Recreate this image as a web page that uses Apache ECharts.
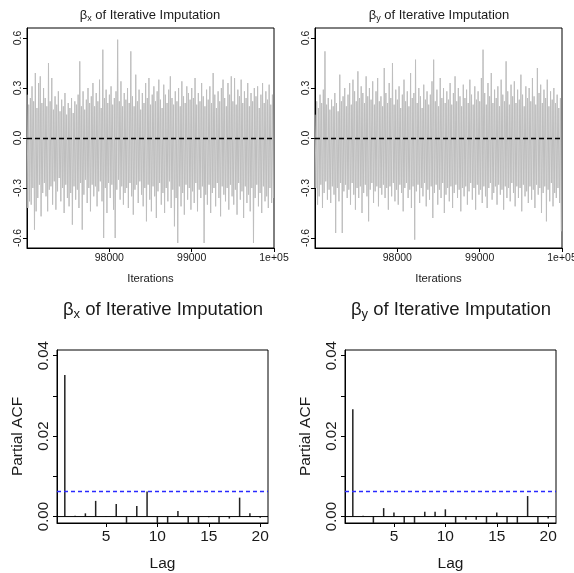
<!DOCTYPE html>
<html>
<head>
<meta charset="utf-8">
<script src="https://cdn.jsdelivr.net/npm/echarts@6/dist/echarts.min.js"></script>
<style>
html,body{margin:0;padding:0;background:#fff;}
#chart{width:574px;height:573px;}
</style>
</head>
<body>
<div id="chart"></div>
<script>
// ---- Trace data (every 10th iteration) ----
const iterStart = 97001;
const iterStep = 10;
const traceBetaX = [
0.26,-0.42,0.20,-0.38,0.24,-0.40,0.31,-0.30,0.22,-0.55,0.39,-0.44,0.18,-0.36,0.33,-0.28,0.37,-0.47,0.21,-0.33,
0.30,-0.27,0.24,-0.35,0.19,-0.44,0.45,-0.31,0.22,-0.29,0.36,-0.40,0.17,-0.26,0.25,-0.43,0.20,-0.32,0.28,-0.24,
0.16,-0.38,0.23,-0.30,0.19,-0.45,0.27,-0.28,0.14,-0.36,0.21,-0.41,0.18,-0.33,0.24,-0.52,0.15,-0.29,0.22,-0.37,
0.20,-0.31,0.26,-0.42,0.46,-0.27,0.19,-0.55,0.28,-0.34,0.17,-0.25,0.23,-0.39,0.30,-0.30,0.21,-0.44,0.25,-0.28,
0.33,-0.35,0.19,-0.29,0.27,-0.41,0.22,-0.32,0.35,-0.26,0.18,-0.38,0.53,-0.60,0.24,-0.30,0.29,-0.45,0.21,-0.27,
0.26,-0.36,0.31,-0.28,0.20,-0.43,0.24,-0.60,0.28,-0.31,0.59,-0.25,0.22,-0.37,0.34,-0.29,0.19,-0.40,0.27,-0.33,
0.23,-0.30,0.30,-0.42,0.21,-0.27,0.52,-0.35,0.25,-0.46,0.19,-0.31,0.38,-0.28,0.22,-0.39,0.29,-0.26,0.17,-0.34,
0.27,-0.41,0.21,-0.30,0.33,-0.50,0.24,-0.28,0.36,-0.37,0.20,-0.44,0.26,-0.29,0.31,-0.35,0.22,-0.48,0.28,-0.32,
0.35,-0.27,0.23,-0.40,0.18,-0.33,0.32,-0.45,0.26,-0.30,0.21,-0.38,0.29,-0.26,0.37,-0.42,0.24,-0.31,0.20,-0.53,
0.28,-0.36,0.22,-0.63,0.30,-0.29,0.19,-0.41,0.34,-0.33,0.25,-0.46,0.21,-0.28,0.31,-0.37,0.27,-0.30,0.23,-0.43,
0.30,-0.32,0.24,-0.39,0.36,-0.27,0.20,-0.44,0.27,-0.31,0.22,-0.36,0.33,-0.29,0.25,-0.63,0.19,-0.34,0.29,-0.40,
0.23,-0.28,0.31,-0.45,0.21,-0.33,0.39,-0.30,0.26,-0.41,0.18,-0.27,0.28,-0.36,0.22,-0.47,0.30,-0.29,0.35,-0.34,
0.24,-0.38,0.19,-0.30,0.33,-0.43,0.26,-0.28,0.37,-0.35,0.22,-0.40,0.36,-0.31,0.20,-0.46,0.29,-0.27,0.25,-0.37,
0.35,-0.32,0.21,-0.48,0.28,-0.29,0.24,-0.39,0.33,-0.34,0.19,-0.44,0.27,-0.30,0.22,-0.63,0.30,-0.36,0.25,-0.28,
0.31,-0.41,0.18,-0.33,0.26,-0.45,0.33,-0.29,0.21,-0.38,0.28,-0.35,0.23,-0.42,0.32,-0.30,0.20,-0.39,0.26,-0.36
];
const traceBetaY = [
0.14,-0.30,0.22,-0.40,0.18,-0.35,0.26,-0.28,0.21,-0.42,0.29,-0.33,0.52,-0.26,0.20,-0.37,0.24,-0.31,0.17,-0.39,
0.23,-0.29,0.19,-0.34,0.27,-0.57,0.21,-0.30,0.16,-0.38,0.38,-0.27,0.22,-0.57,0.25,-0.32,0.30,-0.28,0.19,-0.36,
0.26,-0.31,0.33,-0.40,0.20,-0.27,0.35,-0.34,0.28,-0.43,0.22,-0.30,0.40,-0.36,0.24,-0.29,0.31,-0.45,0.27,-0.33,
0.21,-0.28,0.37,-0.35,0.25,-0.50,0.30,-0.31,0.23,-0.27,0.34,-0.39,0.20,-0.32,0.28,-0.29,0.36,-0.41,0.22,-0.30,
0.25,-0.34,0.19,-0.28,0.42,-0.36,0.27,-0.30,0.21,-0.43,0.33,-0.29,0.24,-0.35,0.45,-0.27,0.20,-0.38,0.29,-0.31,
0.23,-0.40,0.31,-0.28,0.18,-0.33,0.26,-0.44,0.35,-0.30,0.22,-0.27,0.28,-0.36,0.19,-0.31,0.39,-0.42,0.24,-0.29,
0.27,-0.61,0.47,-0.32,0.21,-0.28,0.30,-0.39,0.25,-0.30,0.18,-0.35,0.32,-0.27,0.23,-0.41,0.28,-0.31,0.20,-0.37,
0.26,-0.29,0.34,-0.48,0.47,-0.33,0.22,-0.28,0.29,-0.40,0.19,-0.31,0.36,-0.36,0.24,-0.27,0.30,-0.45,0.21,-0.34,
0.28,-0.30,0.23,-0.38,0.33,-0.29,0.20,-0.42,0.27,-0.33,0.37,-0.28,0.22,-0.36,0.30,-0.31,0.25,-0.44,0.19,-0.30,
0.32,-0.35,0.24,-0.29,0.29,-0.40,0.21,-0.32,0.35,-0.27,0.26,-0.37,0.20,-0.30,0.31,-0.43,0.23,-0.28,0.28,-0.34,
0.22,-0.31,0.36,-0.39,0.53,-0.29,0.27,-0.35,0.20,-0.42,0.33,-0.30,0.25,-0.27,0.39,-0.37,0.21,-0.33,0.29,-0.29,
0.24,-0.40,0.31,-0.28,0.19,-0.34,0.35,-0.31,0.26,-0.43,0.22,-0.29,0.46,-0.36,0.28,-0.30,0.20,-0.38,0.32,-0.27,
0.25,-0.33,0.34,-0.41,0.21,-0.29,0.29,-0.36,0.23,-0.30,0.38,-0.44,0.26,-0.28,0.19,-0.35,0.31,-0.32,0.24,-0.39,
0.30,-0.29,0.22,-0.37,0.36,-0.31,0.25,-0.42,0.20,-0.28,0.42,-0.34,0.27,-0.30,0.32,-0.45,0.21,-0.33,0.29,-0.29,
0.24,-0.50,0.35,-0.31,0.19,-0.38,0.28,-0.27,0.23,-0.41,0.30,-0.33,0.21,-0.36,0.26,-0.30,0.18,-0.39,0.24,-0.56
];
const traceXTicks = [98000, 99000, 100000];
const traceYTicks = [-0.6, -0.3, 0, 0.3, 0.6];

// ---- Partial ACF data ----
const lags = [1,2,3,4,5,6,7,8,9,10,11,12,13,14,15,16,17,18,19,20];
const pacfBetaX = [0.0352,0.0002,0.0008,0.0039,-0.0001,0.0031,-0.0030,0.0026,0.0062,-0.0030,-0.0030,0.0014,-0.0030,-0.0030,-0.0002,-0.0030,-0.0005,0.0047,0.0008,-0.0003];
const pacfBetaY = [0.0267,0.0002,-0.0030,0.0021,0.0010,-0.0030,-0.0030,0.0012,0.0012,0.0018,-0.0030,-0.0008,-0.0008,-0.0030,0.0010,-0.0030,-0.0030,0.0051,-0.0030,-0.0005];
const confLimit = 0.0062;
const lagRange = [0.24, 20.76];
const lagTicks = [5, 10, 15, 20];
const pacfTicks = [0, 0.01, 0.02, 0.03, 0.04];
const pacfLabels = [0, 0.02, 0.04];

const FONT = "'Liberation Sans', Arial, sans-serif";
const INK = '#1a1a1a';

const chart = echarts.init(document.getElementById('chart'), null, {renderer: 'canvas'});

const grids = [
  {left: 27, top: 28, width: 247, height: 220},
  {left: 315, top: 28, width: 247, height: 220},
  {left: 57, top: 350, width: 211, height: 173},
  {left: 345, top: 350, width: 211, height: 173}
].map(g => Object.assign({show: true, borderColor: '#000', borderWidth: 1, backgroundColor: 'transparent', containLabel: false, outerBoundsMode: 'none'}, g));

function traceX(i) {
  return {
    type: 'value', gridIndex: i, min: 97000, max: 100000,
    axisLine: {show: true, onZero: false, lineStyle: {color: '#000', width: 1}},
    axisTick: {show: true, length: 4, customValues: traceXTicks, lineStyle: {color: '#000'}},
    axisLabel: {show: true, customValues: traceXTicks, margin: 5, fontSize: 10.5, fontFamily: FONT, color: INK,
      formatter: v => v === 100000 ? '1e+05' : String(v)},
    splitLine: {show: false},
    name: 'Iterations', nameLocation: 'middle', nameGap: 25,
    nameTextStyle: {fontSize: 11.3, fontFamily: FONT, color: INK}
  };
}
function traceY(i) {
  return {
    type: 'value', gridIndex: i, min: -0.66, max: 0.66,
    axisLine: {show: true, onZero: false, lineStyle: {color: '#000', width: 1}},
    axisTick: {show: true, length: 4, customValues: traceYTicks, lineStyle: {color: '#000'}},
    axisLabel: {show: true, customValues: traceYTicks, rotate: 90, margin: 3, fontSize: 10.5, fontFamily: FONT, color: INK,
      formatter: v => v.toFixed(1)},
    splitLine: {show: false}
  };
}
function pacfX(i) {
  return {
    type: 'value', gridIndex: i, min: lagRange[0], max: lagRange[1],
    axisLine: {show: true, onZero: false, lineStyle: {color: '#000', width: 1}},
    axisTick: {show: true, length: 4, customValues: lagTicks, lineStyle: {color: '#000'}},
    axisLabel: {show: true, customValues: lagTicks, margin: 6, fontSize: 15.5, fontFamily: FONT, color: INK},
    splitLine: {show: false},
    name: 'Lag', nameLocation: 'middle', nameGap: 33,
    nameTextStyle: {fontSize: 15.5, fontFamily: FONT, color: INK}
  };
}
function pacfY(i) {
  return {
    type: 'value', gridIndex: i, min: -0.0016, max: 0.0414,
    axisLine: {show: true, onZero: false, lineStyle: {color: '#000', width: 1}},
    axisTick: {show: true, length: 4, customValues: pacfTicks, lineStyle: {color: '#000'}},
    axisLabel: {show: true, customValues: pacfLabels, rotate: 90, margin: 6, fontSize: 15, fontFamily: FONT, color: INK,
      formatter: v => v.toFixed(2)},
    splitLine: {show: false},
    name: 'Partial ACF', nameLocation: 'middle', nameGap: 31, nameRotate: 90,
    nameTextStyle: {fontSize: 15.5, fontFamily: FONT, color: INK}
  };
}

function traceSeries(idx, values) {
  return {
    type: 'line', xAxisIndex: idx, yAxisIndex: idx,
    data: values.map((v, i) => [iterStart + iterStep * i, v]),
    showSymbol: false, symbol: 'none', sampling: null, silent: true,
    lineStyle: {color: '#bebebe', width: 1},
    clip: true,
    markLine: {silent: true, symbol: 'none', label: {show: false},
      lineStyle: {color: '#000', type: [5, 3], width: 1.4},
      data: [{yAxis: 0}]}
  };
}
function pacfSeries(idx, values) {
  return [
    {
      type: 'bar', xAxisIndex: idx, yAxisIndex: idx,
      data: values.map((v, i) => [lags[i], v]),
      barWidth: 1.5, clip: true, silent: true,
      itemStyle: {color: '#222'}
    },
    {
      type: 'line', xAxisIndex: idx, yAxisIndex: idx, silent: true,
      data: [[lagRange[0], 0], [lagRange[1], 0]],
      showSymbol: false, symbol: 'none',
      lineStyle: {color: '#000', width: 1, type: 'solid'}, z: 3
    },
    {
      type: 'line', xAxisIndex: idx, yAxisIndex: idx, silent: true,
      data: [[lagRange[0], confLimit], [lagRange[1], confLimit]],
      showSymbol: false, symbol: 'none',
      lineStyle: {color: '#2a2aff', width: 1.5, type: [4, 3]}, z: 3
    }
  ];
}

function titleText(cx, cy, sub, fs) {
  return {
    type: 'text', x: cx, y: cy, silent: true,
    style: {
      text: '{g|β}{s|' + sub + '}{t| of Iterative Imputation}',
      textAlign: 'center', textVerticalAlign: 'middle',
      fill: INK, fontFamily: FONT, fontSize: fs,
      rich: {
        g: {fontSize: fs, fontFamily: FONT, fill: INK, color: INK},
        s: {fontSize: Math.round(fs * 0.7), fontFamily: FONT, fill: INK, color: INK, padding: [Math.round(fs * 0.5), 0, 0, 0]},
        t: {fontSize: fs, fontFamily: FONT, fill: INK, color: INK}
      }
    }
  };
}

chart.setOption({
  animation: false,
  backgroundColor: '#fff',
  grid: grids,
  xAxis: [traceX(0), traceX(1), pacfX(2), pacfX(3)],
  yAxis: [traceY(0), traceY(1), pacfY(2), pacfY(3)],
  series: [
    traceSeries(0, traceBetaX),
    traceSeries(1, traceBetaY),
    ...pacfSeries(2, pacfBetaX),
    ...pacfSeries(3, pacfBetaY)
  ],
  graphic: [
    titleText(150, 15, 'x', 13),
    titleText(439, 15, 'y', 13),
    titleText(163, 310, 'x', 18.5),
    titleText(451, 310, 'y', 18.5)
  ]
});
</script>
</body>
</html>
